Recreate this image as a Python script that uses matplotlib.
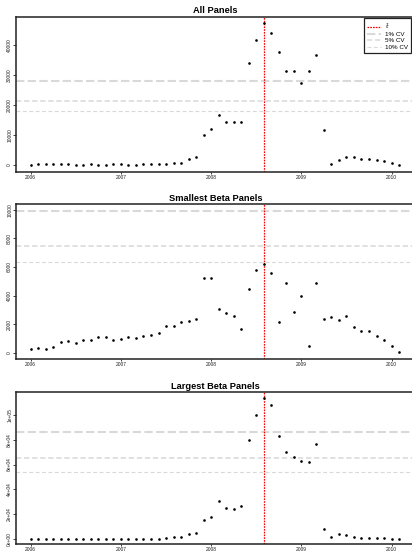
import numpy as np
import pandas as pd
import matplotlib
matplotlib.use("Agg")
import matplotlib.pyplot as plt

plt.rcParams['font.family'] = ['Liberation Sans', 'DejaVu Sans']
plt.rcParams['lines.scale_dashes'] = False

# monthly observations, Jan 2006 .. Feb 2010
dates = pd.date_range('2006-01-01', periods=50, freq='MS')
event_date = pd.Timestamp('2008-08-01')

all_panels = [150, 300, 250, 250, 250, 300, 150, 50, 300, 100, 100, 250,
              250, 100, 150, 300, 300, 200, 200, 700, 800, 1900, 2800, 10000,
              12000, 16700, 14400, 14400, 14400, 33900, 41800, 47200, 43900,
              37800, 31300, 31400, 27300, 31300, 36600, 11800, 300, 1700,
              2600, 2800, 2000, 2000, 1600, 1200, 600, 100]
smallest_beta = [280, 330, 280, 370, 770, 840, 680, 910, 910, 1070, 1090, 860,
                 950, 1070, 1050, 1190, 1230, 1400, 1880, 1860, 2160, 2230, 2330, 5230,
                 5230, 3070, 2770, 2560, 1630, 4440, 5790, 6210, 5560, 2160,
                 4840, 2880, 3950, 440, 4840, 2330, 2470, 2280, 2560, 1810,
                 1530, 1530, 1160, 910, 470, 20]
largest_beta = [300, 500, 300, 300, 100, 200, 300, 100, 500, 500, 500, 500,
                500, 300, 300, 600, 600, 600, 1100, 1600, 1900, 4000, 5300, 15200,
                17600, 30500, 24900, 24100, 26700, 79700, 100000, 113100, 108000,
                82900, 70300, 65800, 63100, 61800, 76700, 8600, 2100, 4000,
                3200, 2100, 1100, 1100, 800, 800, 300, 100]

# sample-size thresholds for 1%, 5%, 10% CV
cv_labels = ['1% CV', '5% CV', '10% CV']
cv_all = [28000, 21300, 18000]
cv_smallest = [9900, 7480, 6350]
cv_largest = [86400, 65000, 53800]

titles = ['All Panels', 'Smallest Beta Panels', 'Largest Beta Panels']
year_ticks = [2006, 2007, 2008, 2009, 2010]
ylims = [(-2333, 49333), (-440, 10378), (-3770, 117930)]
yticks = [[0, 10000, 20000, 30000, 40000],
          [0, 2000, 4000, 6000, 8000, 10000],
          [0, 20000, 40000, 60000, 80000, 100000]]
ytick_labels = [[str(v) for v in yticks[0]],
                [str(v) for v in yticks[1]],
                ['0e+00', '2e+04', '4e+04', '6e+04', '8e+04', '1e+05']]

t = dates.year + (dates.month - 1) / 12
t_event = event_date.year + (event_date.month - 1) / 12

cv_styles = [dict(lw=1.5, dashes=(6.0, 2.4)),
             dict(lw=1.1, dashes=(3.8, 2.0)),
             dict(lw=0.8, dashes=(2.8, 1.8))]
cv_color = '#d9d9d9'

W, H = 412, 554
fig = plt.figure(figsize=(W / 100, H / 100), dpi=100)
# axes boxes in pixels: left, top, right, bottom
boxes = [(16, 17, 415, 172), (16, 204.3, 415, 359), (16, 392.3, 415, 544)]

series = [all_panels, smallest_beta, largest_beta]
cvs = [cv_all, cv_smallest, cv_largest]

for k in range(3):
    l, tp, r, b = boxes[k]
    ax = fig.add_axes([l / W, 1 - b / H, (r - l) / W, (b - tp) / H])
    handles = []
    h = ax.axvline(t_event, color='red', lw=0.9, linestyle=(0, (1.2, 0.8)), zorder=2)
    handles.append(h)
    for j in range(3):
        h = ax.axhline(cvs[k][j], color=cv_color, zorder=1, **cv_styles[j])
        handles.append(h)
    ax.plot(t, series[k], 'o', color='black', ms=1.9, mew=0, zorder=3)

    ax.set_xlim(2005.837, 2010.26)
    ax.set_ylim(*ylims[k])
    ax.set_xticks(year_ticks)
    ax.set_xticklabels([str(y) for y in year_ticks])
    ax.set_yticks(yticks[k])
    ax.set_yticklabels(ytick_labels[k])
    ax.tick_params(axis='both', labelsize=3.5, colors='#222222', width=0.6)
    ax.tick_params(axis='y', length=2.0, pad=0.8)
    ax.tick_params(axis='x', length=1.5, pad=0.4)
    for lab in ax.get_yticklabels():
        lab.set_rotation(90)
        lab.set_va('center')
    for side in ['left', 'bottom', 'top', 'right']:
        ax.spines[side].set_linewidth(1.1)
        ax.spines[side].set_color('#222222')
    ax.set_title(titles[k], fontsize=6.7, fontweight='bold', pad=2.6)

    if k == 0:
        leg = ax.legend(handles, [r'$\hat{t}$'] + cv_labels, loc='upper right',
                        bbox_to_anchor=(0.99, 0.994), borderaxespad=0,
                        fontsize=4.5, handlelength=2.2, handletextpad=0.6,
                        labelspacing=0.15, borderpad=0.5, fancybox=False,
                        framealpha=1)
        leg.get_frame().set_edgecolor('#222222')
        leg.get_frame().set_linewidth(0.9)

fig.savefig('out.png', dpi=100)
